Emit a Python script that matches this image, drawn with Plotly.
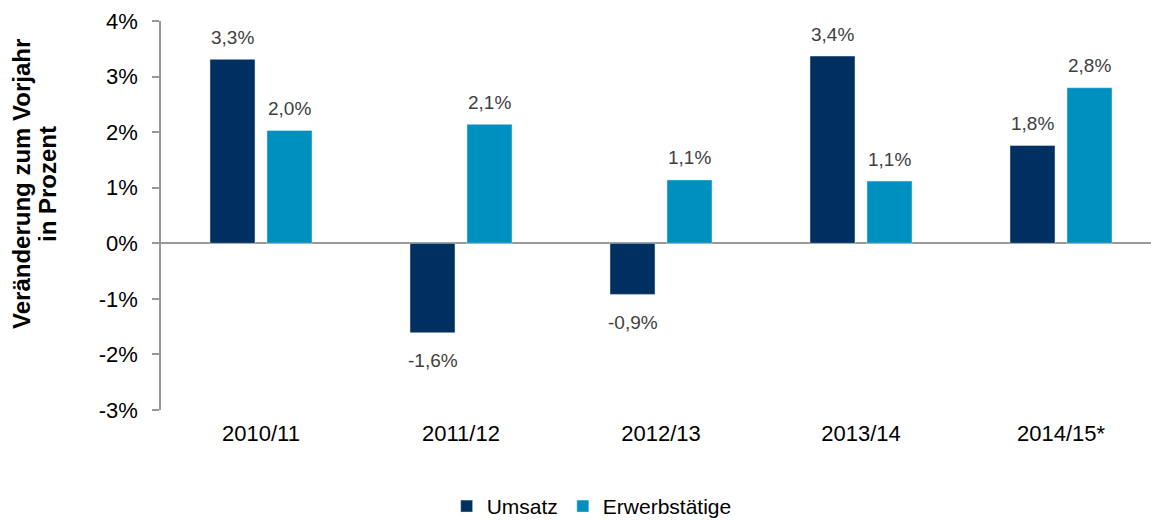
import plotly.graph_objects as go

categories = ["2010/11", "2011/12", "2012/13", "2013/14", "2014/15*"]
umsatz = [3.31, -1.61, -0.92, 3.37, 1.76]
erwerb = [2.03, 2.14, 1.14, 1.12, 2.80]
y_ticks = [-3, -2, -1, 0, 1, 2, 3, 4]
y_ticktext = [f"{v}%" for v in y_ticks]
title_lines = ["Veränderung zum Vorjahr", "in Prozent"]

C_UMS = "#00305f"
C_ERW = "#0090c0"
FONT = "Liberation Sans, Arial, sans-serif"


def fmt(v):
    return f"{v:.1f}".replace(".", ",") + "%"


fig = go.Figure()
fig.add_trace(go.Bar(x=categories, y=umsatz, name="Umsatz", marker_color=C_UMS))
fig.add_trace(go.Bar(x=categories, y=erwerb, name="Erwerbstätige", marker_color=C_ERW))

annotations = []
for series, shift in ((umsatz, -28.5), (erwerb, 28.5)):
    for c, v in zip(categories, series):
        annotations.append(dict(
            x=c, y=v, xref="x", yref="y", text=fmt(v), showarrow=False,
            xshift=shift, yshift=22 if v >= 0 else -28,
            font=dict(family=FONT, size=19, color="#404040"),
        ))

for line, xp in zip(title_lines, (-0.1404, -0.1141)):
    annotations.append(dict(
        x=xp, y=0.581, xref="paper", yref="paper", xanchor="center", yanchor="middle",
        text=f"<b>{line}</b>", textangle=-90,
        showarrow=False, font=dict(family=FONT, size=24, color="#000000"),
    ))

fig.update_layout(
    width=1151, height=523,
    margin=dict(l=161, r=0, t=21, b=113, autoexpand=False),
    paper_bgcolor="white", plot_bgcolor="white",
    barmode="group", bargap=0.43, bargroupgap=0.21,
    font=dict(family=FONT, size=22, color="#000000"),
    showlegend=True,
    legend=dict(orientation="h", x=0.435, xanchor="center", y=-0.248, yanchor="middle",
                font=dict(family=FONT, size=21, color="#000000"), itemwidth=30,
                tracegroupgap=0),
    annotations=annotations,
    xaxis=dict(range=[-0.5, 4.45], showline=False, showgrid=False, ticks="",
               tickfont=dict(family=FONT, size=22, color="#000000"),
               ticklabelstandoff=8),
    yaxis=dict(range=[-3, 4], tickvals=y_ticks, ticktext=y_ticktext,
               showgrid=False, showline=True, linecolor="#999999", linewidth=1.5,
               ticks="outside", ticklen=7, tickcolor="#999999", tickwidth=1.5,
               zeroline=True, zerolinecolor="#999999", zerolinewidth=1.5,
               tickfont=dict(family=FONT, size=22, color="#000000"),
               ticklabelstandoff=10),
)

fig.write_html("out.html", config={"displayModeBar": False},
               post_script="document.body.style.margin='0';")
